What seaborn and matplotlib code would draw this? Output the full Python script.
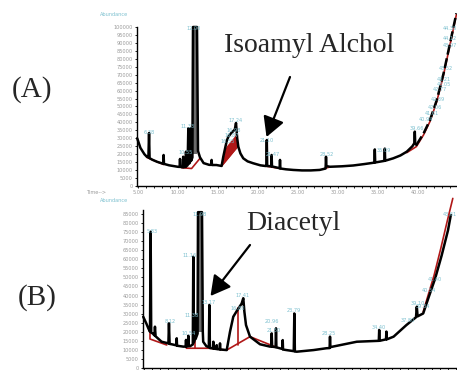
import matplotlib
matplotlib.use("Agg")
import matplotlib.pyplot as plt
import seaborn as sns
import numpy as np
import pandas as pd

# ---------------- data ----------------
# Panel A trace (retention time [min], abundance)
a_time = [4.9, 5.3, 5.8, 6.1, 6.3, 6.38, 6.45, 6.8, 7.4, 7.9, 8.15, 8.2, 8.25, 8.9, 9.5, 9.96,
          10.2, 10.25, 10.3, 10.6, 10.65, 10.7, 10.95, 11.0, 11.05, 11.2, 11.29, 11.38, 11.5,
          11.58, 11.66, 11.8, 11.875, 12.375, 12.5, 12.75, 13.2, 13.9, 14.15, 14.2, 14.25, 14.8,
          15.45, 15.66, 15.9, 16.1, 16.3, 16.6, 16.9, 17.1, 17.25, 17.4, 17.54, 17.8, 18.16,
          18.7, 19.4, 20.3, 20.9, 21.05, 21.1, 21.15, 21.65, 21.7, 21.75, 22.7, 22.75, 22.8,
          23.5, 24.4, 25.5, 26.6, 27.7, 28.45, 28.5, 28.55, 29.0, 30.5, 31.9, 33.3, 34.55,
          34.6, 34.65, 35.8, 35.85, 35.9, 36.9, 37.8, 38.6, 39.3, 39.55, 39.6, 39.65, 39.8]
a_abund = [30000, 24000, 20000, 18400, 18000, 33300, 17500, 16500, 15200, 14400, 14000, 19500,
           13900, 13000, 12500, 12100, 12000, 17000, 12000, 11800, 18400, 11800, 12000, 21600,
           12500, 13000, 36300, 14000, 15000, 36300, 16000, 18000, 100000, 100000, 22000, 18000,
           14400, 13300, 13300, 16400, 13200, 13200, 12600, 18400, 24000, 28500, 31000, 33000,
           34500, 35500, 39600, 30000, 24700, 20500, 17400, 15500, 14300, 13000, 12600, 12600,
           28900, 12600, 12400, 19500, 12300, 11200, 16400, 11000, 10500, 10100, 9800, 9800,
           10100, 11000, 18400, 12500, 12100, 12400, 12900, 13800, 14700, 23000, 14800, 15800,
           23500, 15900, 17400, 19200, 21600, 25000, 27000, 34200, 27000, 25800]
a_rise_time = [39.8, 40.7, 41.5, 42.35, 43.2, 44.0, 44.8]
a_rise_abund = [25800, 33100, 41500, 54100, 70900, 89700, 108600]

# Panel A integration baselines (red)
a_base = [
    ([6.1, 8.2], [18000, 13500]),
    ([10.45, 11.7, 12.75], [11500, 11000, 17400]),
    ([15.45, 17.4], [12600, 24500]),
    ([20.6, 22.8], [12800, 11000]),
    ([28.3, 29.0], [11000, 12000]),
    ([38.6, 39.8, 40.7, 41.5, 42.35, 43.2, 44.0, 44.8],
     [21000, 24800, 32200, 40600, 53200, 70000, 88800, 107800]),
]

# Panel B trace
b_time = [4.9, 5.3, 5.54, 5.75, 5.83, 5.9, 6.08, 6.3, 6.37, 6.45, 7.2, 8.05, 8.12, 8.2, 8.46,
          9.05, 9.09, 9.13, 9.91, 10.2, 10.25, 10.3, 10.5, 10.54, 10.58, 10.75, 11.1, 11.16,
          11.22, 11.3, 11.375, 11.45, 11.7, 11.75, 12.25, 12.35, 12.4, 12.8, 13.1, 13.17,
          13.24, 13.5, 13.62, 13.67, 13.72, 14.04, 14.09, 14.14, 14.45, 14.5, 14.55, 15.34,
          15.75, 16.16, 16.8, 17.2, 17.41, 17.55, 17.75, 18.25, 19.5, 20.75, 20.9, 20.96,
          21.02, 21.45, 21.5, 21.55, 22.3, 22.34, 22.38, 22.8, 23.72, 23.79, 23.86, 24.1,
          26.2, 27.8, 28.2, 28.25, 28.3, 28.6, 31.6, 34.35, 34.4, 34.45, 35.25, 35.3, 35.35,
          36.2, 37.8, 39.0, 39.1, 39.2, 39.9, 40.54, 41.4, 42.2, 43.0, 43.35]
b_abund = [28300, 24500, 21900, 20000, 75200, 19500, 19100, 18000, 22800, 17500, 14500, 13600,
           24700, 13300, 13100, 12500, 16400, 12300, 11800, 11800, 15500, 11800, 12000, 17800,
           12200, 12000, 13000, 61400, 14000, 15000, 29000, 16000, 19000, 86000, 86000, 20000,
           14500, 12000, 11500, 34800, 11000, 10900, 10800, 14500, 10700, 10500, 12600, 10400,
           10300, 13600, 10200, 9900, 20000, 28300, 32900, 35500, 38500, 31000, 23700, 17300,
           13100, 11800, 11800, 19100, 11800, 11500, 21900, 11400, 10500, 15400, 10200, 9900,
           9300, 30100, 9100, 9000, 9900, 10900, 11000, 17300, 11500, 11800, 14500, 15000,
           21000, 15000, 15800, 20100, 15800, 17300, 23700, 28000, 33800, 28500, 30100, 38500,
           49500, 62000, 76000, 84400]

b_base = [
    ([5.75, 5.75, 7.84], [22000, 16000, 12700]),
    ([11.375, 11.375], [20000, 10900]),
    ([10.3, 13.25, 15.34, 18.25, 21.5], [10900, 10900, 9900, 17300, 11500]),
    ([16.8, 16.8], [32900, 12700]),
    ([39.9, 40.4, 41.25, 42.1, 42.9, 43.6], [31000, 38500, 51000, 66000, 81000, 93600]),
]

# peak labels (retention times)
a_lbl_text = ["6.38", "12.00", "11.33", "10.55", "17.24", "16.98", "16.87", "16.55", "21.10",
              "21.47", "28.52", "35.09", "39.66", "40.94", "41.61", "42.06", "42.39", "42.77",
              "43.05", "43.21", "43.52", "43.97", "44.12", "44.38"]
a_lbl_x = [6.44, 12.0, 11.25, 10.94, 17.19, 17.0, 16.75, 16.19, 21.06, 21.81, 28.56, 35.75,
           39.88, 40.94, 41.69, 42.13, 42.44, 42.75, 43.19, 43.19, 43.44, 43.94, 44.0, 44.125]
a_lbl_y = [33500, 98750, 37300, 20900, 41100, 35200, 31450, 27900, 28500, 19500, 19900, 22200,
           35850, 42100, 45700, 49500, 54500, 60800, 64000, 67100, 74000, 88250, 92900, 98750]

b_lbl_text = ["5.83", "11.98", "11.16", "13.17", "11.38", "8.12", "10.54", "17.41", "16.80",
              "20.96", "21.50", "23.79", "28.25", "34.40", "37.80", "39.10", "39.84", "40.54",
              "41.40", "43.61"]
b_lbl_x = [6.06, 12.0, 10.75, 13.06, 10.94, 8.25, 10.56, 17.375, 16.69, 20.94, 21.19, 23.75,
           28.125, 34.31, 37.94, 39.19, 39.81, 40.56, 41.31, 43.5]
b_lbl_y = [75200, 84500, 62000, 36000, 29250, 25400, 19300, 39900, 33100, 25400, 20600, 31600,
           18800, 22200, 26100, 35700, 33800, 42500, 49100, 84500]

panel_names = ["(A)", "(B)"]
compound_names = ["Isoamyl Alchol", "Diacetyl"]

# ---------------- style ----------------
sns.set_style("ticks")
plt.rcParams["font.family"] = ["DejaVu Sans"]

BLACK = "#000000"
RED = "#b01818"
CYAN = "#7cc0cf"
GRAY = "#9a9a9a"
SERIF = ["Liberation Serif", "DejaVu Serif"]
SMALL = 3.6

W, H = 457, 370
fig = plt.figure(figsize=(W / 100, H / 100), dpi=100)

def px_rect(l, t, r, b):
    return [l / W, 1 - b / H, (r - l) / W, (b - t) / H]

axA = fig.add_axes(px_rect(137, 27, 457, 186))
axB = fig.add_axes(px_rect(143, 210, 457, 368))


def style_axis(ax, xlim, ylim, ystep):
    ax.set_xlim(*xlim)
    ax.set_ylim(*ylim)
    for s in ["top", "right"]:
        ax.spines[s].set_visible(False)
    for s in ["left", "bottom"]:
        ax.spines[s].set_linewidth(1.0)
        ax.spines[s].set_color("black")
    ax.set_yticks(np.arange(0, ylim[1] + 1, ystep))
    ax.set_yticklabels([f"{int(v)}" for v in np.arange(0, ylim[1] + 1, ystep)])
    ax.set_xticks(np.arange(5, xlim[1], 5))
    ax.set_xticklabels([f"{v:.2f}" for v in np.arange(5, xlim[1], 5)])
    ax.set_xticks(np.arange(5, xlim[1], 1), minor=True)
    ax.tick_params(axis="both", which="both", direction="out", length=1.5, width=0.6,
                   labelsize=SMALL, labelcolor=GRAY, pad=1.5, color="black")


def draw_trace(ax, t, y, lw=1.8, **kw):
    df = pd.DataFrame({"t": t, "y": y})
    sns.lineplot(data=df, x="t", y="y", ax=ax, color=BLACK, lw=lw, estimator=None,
                 sort=False, legend=False, **kw)
    ax.lines[-1].set_clip_on(False)


# ---------------- panel A ----------------
style_axis(axA, (4.875, 44.875), (0, 100000), 5000)
for bx, by in a_base:
    sns.lineplot(x=bx, y=by, ax=axA, color=RED, lw=1.2, estimator=None, sort=False)
    axA.lines[-1].set_clip_on(False)
ta = np.array(a_time); ya = np.array(a_abund)
m = (ta >= 15.45) & (ta <= 17.4)
basel = np.interp(ta[m], a_base[2][0], a_base[2][1])
axA.fill_between(ta[m], basel, np.minimum(ya[m], basel + 9000), color=RED, lw=0)
m2 = (ta >= 11.875) & (ta <= 12.375)
axA.fill_between(ta[m2], 20000, ya[m2], color="#6a6a6a", lw=0)
draw_trace(axA, a_time, a_abund)
axA.plot(a_rise_time, a_rise_abund, color=BLACK, lw=1.8, dashes=(4, 1.5), clip_on=False)

# ---------------- panel B ----------------
style_axis(axB, (4.875, 44.125), (0, 87200), 5000)
# the x tick labels of panel B fall below the picture's edge in the reference
axB.tick_params(axis="x", which="both", labelbottom=False)
for bx, by in b_base:
    sns.lineplot(x=bx, y=by, ax=axB, color=RED, lw=1.2, estimator=None, sort=False)
    axB.lines[-1].set_clip_on(False)
tb = np.array(b_time); yb = np.array(b_abund)
m3 = (tb >= 11.75) & (tb <= 12.25)
axB.fill_between(tb[m3], 20000, yb[m3], color="#6a6a6a", lw=0)
draw_trace(axB, b_time, b_abund)

for ax in (axA, axB):
    ax.set_xlabel("")
    ax.set_ylabel("")

# peak labels
for ax, txt, xs, ys in [(axA, a_lbl_text, a_lbl_x, a_lbl_y), (axB, b_lbl_text, b_lbl_x, b_lbl_y)]:
    right = ax.get_xlim()[1]
    for s, x, y in zip(txt, xs, ys):
        if x > right - 1.0:
            ax.text(right - 0.05, y, s, color=CYAN, fontsize=SMALL, ha="right", va="center",
                    clip_on=False)
        else:
            ax.text(x, y, s, color=CYAN, fontsize=SMALL, ha="center", va="center", clip_on=False)

# header texts
fig.text(100 / W, 1 - 15 / H, "Abundance", color=CYAN, fontsize=SMALL, va="center", ha="left")
fig.text(100 / W, 1 - 200 / H, "Abundance", color=CYAN, fontsize=SMALL, va="center", ha="left")
fig.text(106 / W, 1 - 193 / H, "Time-->", color=GRAY, fontsize=SMALL, va="center", ha="right")

# panel names and compound annotations
fig.text(32 / W, 1 - 90 / H, panel_names[0], fontsize=21, family=SERIF, ha="center", va="center")
fig.text(37 / W, 1 - 298 / H, panel_names[1], fontsize=21, family=SERIF, ha="center", va="center")
fig.text(224 / W, 1 - 52 / H, compound_names[0], fontsize=20, family=SERIF, ha="left", va="baseline")
fig.text(246 / W, 1 - 230 / H, compound_names[1], fontsize=20, family=SERIF, ha="left", va="baseline")

arrow_kw = dict(arrowstyle="-|>,head_length=0.4,head_width=0.22", mutation_scale=30,
                lw=1.6, color="black", shrinkA=0, shrinkB=0)
fig.add_artist(matplotlib.patches.FancyArrowPatch((290, H - 77), (266.5, H - 137),
               transform=None, **arrow_kw))
fig.add_artist(matplotlib.patches.FancyArrowPatch((250, H - 245), (210.5, H - 296),
               transform=None, **arrow_kw))

fig.savefig("out.png", dpi=100)
